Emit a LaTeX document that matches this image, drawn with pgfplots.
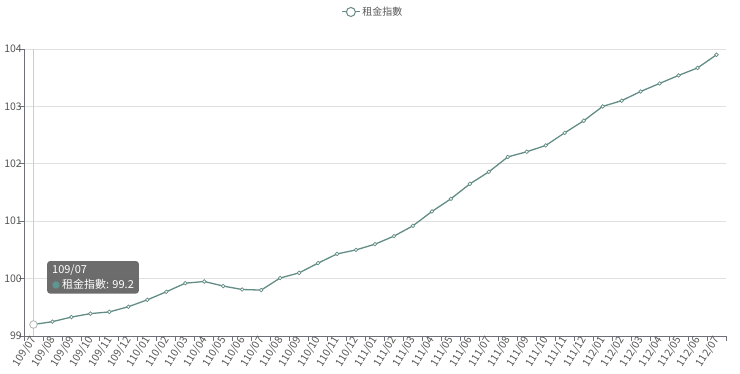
\documentclass[border=0pt]{standalone}
\usepackage{fontspec}
\setmainfont{Noto Sans CJK TC}
\usepackage{pgfplots}
\pgfplotsset{compat=1.18}
\definecolor{linec}{RGB}{98,140,133}
\definecolor{axisc}{RGB}{110,112,121}
\definecolor{labc}{RGB}{85,85,85}
\definecolor{gridc}{RGB}{224,224,224}
\definecolor{tipc}{RGB}{100,100,100}
\definecolor{tipdot}{RGB}{95,150,145}
\definecolor{legc}{RGB}{90,90,90}
\begin{document}
\begin{tikzpicture}[x=1bp,y=1bp]
\useasboundingbox (0,0) rectangle (740,373);
\begin{axis}[
  at={(24bp,37bp)}, anchor=south west,
  scale only axis, width=702bp, height=287bp,
  xmin=-0.5, xmax=36.5, ymin=99, ymax=104,
  clip=false,
  axis x line*=bottom, axis y line*=left,
  axis line style={-, axisc, line width=0.9bp},
  xtick={0,...,36},
  xticklabels={109/07,109/08,109/09,109/10,109/11,109/12,110/01,110/02,110/03,110/04,110/05,110/06,110/07,110/08,110/09,110/10,110/11,110/12,111/01,111/02,111/03,111/04,111/05,111/06,111/07,111/08,111/09,111/10,111/11,111/12,112/01,112/02,112/03,112/04,112/05,112/06,112/07},
  minor xtick={-0.5,0.5,...,36.5},
  ytick={99,100,...,104},
  minor ytick={99,100,...,104},
  major tick length=0pt, minor tick length=5bp,
  tick align=outside,
  tick style={axisc, line width=0.8bp},
  ymajorgrids, grid style={gridc, line width=0.9bp},
  ticklabel style={font=\fontsize{10.5bp}{12bp}\selectfont, text=labc},
  /pgf/number format/assume math mode=true,
  xticklabel style={rotate=58, anchor=east, inner sep=1bp, yshift=-1bp},
  yticklabel style={inner sep=2bp},
  legend style={at={(0.497,1.129)}, anchor=center, draw=none, fill=none,
    font=\fontsize{10bp}{12bp}\selectfont, text=legc},
  legend image code/.code={
    \draw[linec!80!gray, line width=1bp] (0bp,0bp) -- (18bp,0bp);
    \draw[linec!80!gray, fill=white, line width=1bp] (9bp,0bp) circle (4.5bp);
  },
]
\draw[gray!40, line width=0.9bp] (axis cs:0,99) -- (axis cs:0,104);
\addplot[linec, line width=1.3bp, mark=*, mark size=1.8bp,
  mark options={fill=white, draw=linec, line width=0.7bp}] coordinates {
(0,99.20) (1,99.25) (2,99.33) (3,99.39) (4,99.42) (5,99.51) (6,99.63)
(7,99.77) (8,99.92) (9,99.95) (10,99.87) (11,99.81) (12,99.80)
(13,100.01) (14,100.10) (15,100.27) (16,100.43) (17,100.50) (18,100.60)
(19,100.74) (20,100.92) (21,101.17) (22,101.39) (23,101.65) (24,101.86)
(25,102.12) (26,102.21) (27,102.32) (28,102.54) (29,102.75) (30,103.00)
(31,103.10) (32,103.26) (33,103.40) (34,103.54) (35,103.67) (36,103.90)
};
\addlegendentry{租金指數}
\addplot[forget plot, draw=none, mark=*, mark size=3.8bp,
  mark options={fill=white, draw=gray!55, line width=0.9bp}] coordinates {(0,99.2)};
\node[fill=tipc, fill opacity=0.95, text opacity=1, rounded corners=3bp,
  anchor=north west, text=white, align=left, inner xsep=5bp, inner ysep=4bp,
  font=\fontsize{11bp}{15bp}\selectfont]
  at (axis cs:0.71,100.31)
  {109/07\\{\color{tipdot}\fontsize{8bp}{8bp}\selectfont ●}\hspace{2bp}租金指數: 99.2};
\end{axis}
\end{tikzpicture}
\end{document}
